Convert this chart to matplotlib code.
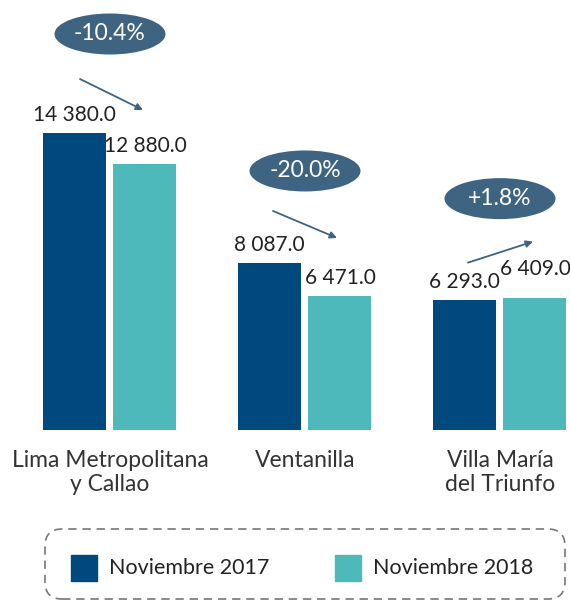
import matplotlib.pyplot as plt
from matplotlib.patches import Ellipse, FancyBboxPatch, Rectangle
import numpy as np

plt.rcParams['font.family'] = ['Lato', 'DejaVu Sans']

categories = ['Lima Metropolitana\ny Callao', 'Ventanilla', 'Villa María\ndel Triunfo']
nov_2017 = [14380.0, 8087.0, 6293.0]
nov_2018 = [12880.0, 6471.0, 6409.0]
series_names = ['Noviembre 2017', 'Noviembre 2018']

c17 = '#00497f'
c18 = '#4db9bb'
bubble = '#3e6481'
txt = '#222222'

W, H = 570, 601
fig = plt.figure(figsize=(W / 100, H / 100), dpi=100)

# axes span full width, baseline at y=430px
ax = fig.add_axes([0, 1 - 430 / H, 1, 430 / H])
px_x = 195.0                      # pixels per group
x = np.arange(len(categories))
ax.set_xlim(-110 / px_x, (W - 110) / px_x)
ymax = 430 / 297 * 14380
ax.set_ylim(0, ymax)
px_y = 297 / 14380               # pixels per unit
ax.axis('off')

bw = 63 / px_x
off = 35 / px_x
ax.bar(x - off, nov_2017, bw, color=c17)
ax.bar(x + off, nov_2018, bw, color=c18)

def fmt(v):
    return f'{v:,.1f}'.replace(',', ' ')

# extra lift (px) so neighbouring labels don't collide
lift_2018 = [0, 0, 11]
for xi, v in zip(x - off, nov_2017):
    ax.text(xi - 1 / px_x, v + 8 / px_y, fmt(v), ha='center', va='bottom', fontsize=15, color=txt)
for xi, v, lf in zip(x + off, nov_2018, lift_2018):
    ax.text(xi, v + (8 + lf) / px_y, fmt(v), ha='center', va='bottom', fontsize=15, color=txt)

# change bubbles and arrows (offsets above the taller bar, in pixels)
bubble_dy = [99, 92, 99]
arrow_start = [(-30, 54), (-32, 52), (-32, 35)]
arrow_end = [(33, 23), (32, 25), (33, 56)]
for i in range(len(categories)):
    pct = (nov_2018[i] - nov_2017[i]) / nov_2017[i] * 100
    top = max(nov_2017[i], nov_2018[i])
    cy = top + bubble_dy[i] / px_y
    ax.add_patch(Ellipse((x[i], cy), 111 / px_x, 41 / px_y,
                         color=bubble, lw=0, zorder=3))
    ax.text(x[i], cy, f'{pct:+.1f}%', ha='center', va='center',
            fontsize=16.5, color='white', zorder=4)
    sx, sy = arrow_start[i]
    ex, ey = arrow_end[i]
    ax.annotate('', xy=(x[i] + ex / px_x, top + ey / px_y),
                xytext=(x[i] + sx / px_x, top + sy / px_y),
                arrowprops=dict(arrowstyle='-|>', color=bubble, lw=1.3,
                                mutation_scale=10, shrinkA=0, shrinkB=0))

# category labels
for xi, lab in zip(x, categories):
    ax.text(xi, -20 / px_y, lab, ha='center', va='top', fontsize=16.5,
            color='#333333', linespacing=1.15, clip_on=False)

# legend box
def fx(p):
    return p / W

def fy(p):
    return 1 - p / H

box = FancyBboxPatch((fx(45), fy(599)), fx(520), (599 - 529) / H,
                     boxstyle='round,pad=0,rounding_size=0.03',
                     transform=fig.transFigure, fill=False,
                     edgecolor='#777777', lw=1.2, linestyle=(0, (5, 3.5)),
                     mutation_aspect=W / H)
fig.patches.append(box)
leg_x = [71, 335]
for lx, name, col in zip(leg_x, series_names, [c17, c18]):
    fig.patches.append(Rectangle((fx(lx), fy(581)), fx(26), 26 / H,
                                 transform=fig.transFigure, color=col))
    fig.text(fx(lx + 38), fy(568), name, ha='left', va='center',
             fontsize=15.5, color=txt)

fig.savefig('out.png', dpi=100)
